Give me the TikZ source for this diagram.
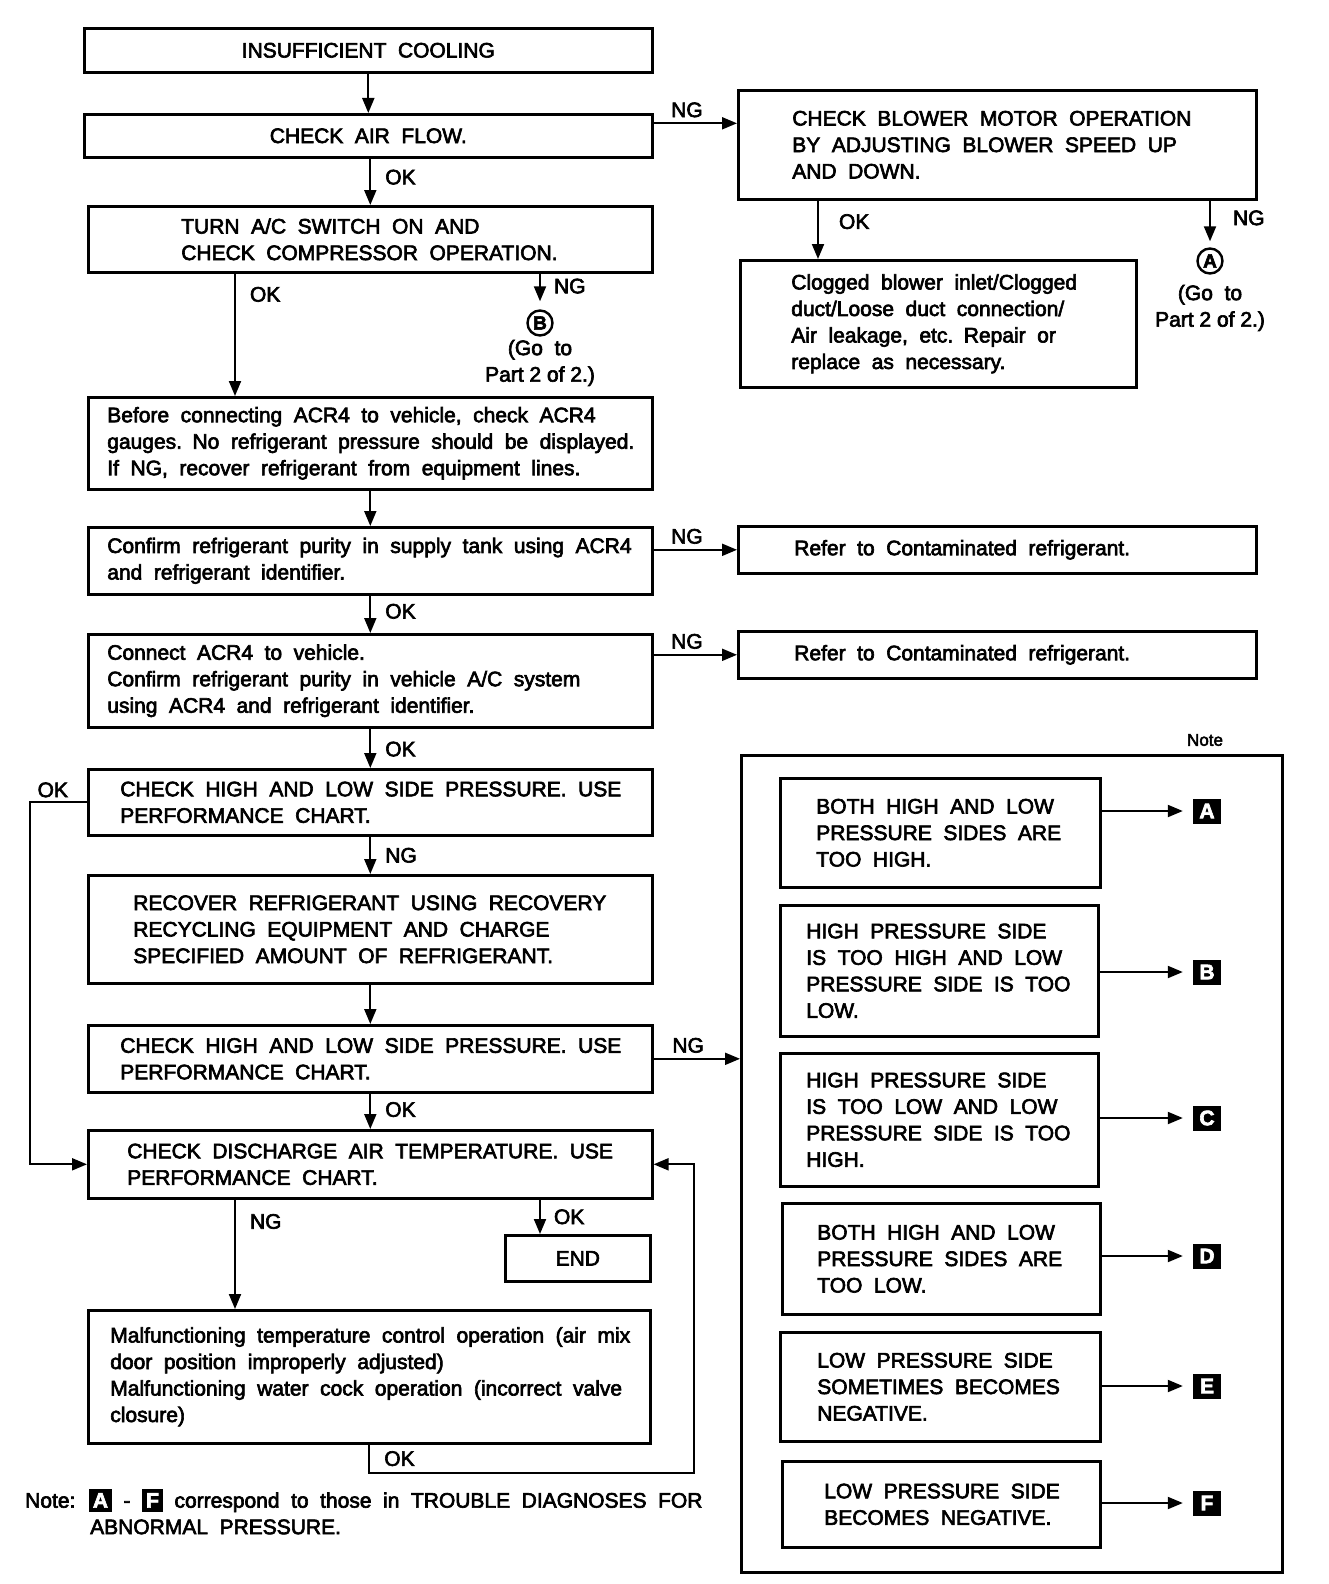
\documentclass[tikz,border=0pt]{standalone}
\usepackage{fontspec}
\setmainfont[FakeBold=3]{Liberation Sans}
\usepackage{xcolor}
\usetikzlibrary{arrows.meta, positioning}

\newcommand{\widesp}{\spaceskip=0.55em plus 0.2em minus 0.15em\relax}
\newcommand{\tagbox}[1]{{\setlength{\fboxsep}{4pt}\colorbox{black}{\textcolor{white}{\bfseries #1}}}}

\begin{document}
\begin{tikzpicture}[
    x=1pt, y=-1pt,
    every node/.style={font=\fontsize{21}{26.5}\selectfont\widesp},
    box/.style={rectangle, draw, line width=2.6pt, anchor=north west, inner sep=0pt, align=left},
    indent/.style={execute at begin node={\leftskip=#1\relax\widesp}},
    frame/.style={rectangle, draw, line width=2.6pt, anchor=north west, inner sep=0pt},
    lbl/.style={inner sep=2pt},
    goto/.style={inner sep=2pt, align=center, font=\fontsize{21}{26.5}\selectfont},
    tag/.style={fill=black, text=white, font=\fontsize{21}{26.5}\selectfont\bfseries, minimum width=28pt, minimum height=25pt, inner sep=0pt},
    circ/.style={circle, draw, line width=2.4pt, inner sep=0pt, minimum size=25pt, font=\fontsize{19}{20}\selectfont\bfseries},
    arrow/.style={-{Triangle[length=15pt,width=12pt]}, line width=2pt}
]
\useasboundingbox (0,0) rectangle (1328,1584);

% main column
\node[box, align=center, minimum width=568pt, minimum height=44pt] (cool) at (83,27) {INSUFFICIENT COOLING};
\node[box, align=center, minimum width=568pt, minimum height=43pt] (air) at (83,113) {CHECK AIR FLOW.};
\node[box, indent=93pt, text width=564pt, minimum height=66pt] (comp) at (87,205) {TURN A/C SWITCH ON AND\\CHECK COMPRESSOR OPERATION.};
\node[circ] (cB) at (540,323) {B};
\node[goto, below=1pt of cB] (goB) {(Go\ \ to\\Part 2 of 2.)};
\node[box, indent=19pt, text width=564pt, minimum height=92pt] (gauge) at (87,396) {Before connecting ACR4 to vehicle, check ACR4\\gauges. No refrigerant pressure should be displayed.\\If NG, recover refrigerant from equipment lines.};
\node[box, indent=19pt, text width=564pt, minimum height=67pt] (tank) at (87,526) {Confirm refrigerant purity in supply tank using ACR4\\and refrigerant identifier.};
\node[box, indent=19pt, text width=564pt, minimum height=93pt] (veh) at (87,633) {Connect ACR4 to vehicle.\\Confirm refrigerant purity in vehicle A/C system\\using ACR4 and refrigerant identifier.};
\node[box, indent=32pt, text width=564pt, minimum height=66pt] (press1) at (87,768) {CHECK HIGH AND LOW SIDE PRESSURE. USE\\PERFORMANCE CHART.};
\node[box, indent=45pt, text width=564pt, minimum height=108pt] (recover) at (87,874) {RECOVER REFRIGERANT USING RECOVERY\\RECYCLING EQUIPMENT AND CHARGE\\SPECIFIED AMOUNT OF REFRIGERANT.};
\node[box, indent=32pt, text width=564pt, minimum height=67pt] (press2) at (87,1024) {CHECK HIGH AND LOW SIDE PRESSURE. USE\\PERFORMANCE CHART.};
\node[box, indent=39pt, text width=564pt, minimum height=68pt] (temp) at (87,1129) {CHECK DISCHARGE AIR TEMPERATURE. USE\\PERFORMANCE CHART.};
\node[box, align=center, minimum width=145pt, minimum height=46pt] (fin) at (504,1234) {END};
\node[box, indent=22pt, text width=562pt, minimum height=133pt] (malf) at (87,1309) {Malfunctioning temperature control operation (air mix\\door position improperly adjusted)\\Malfunctioning water cock operation (incorrect valve\\closure)};

% blower branch
\node[box, indent=54pt, text width=518pt, minimum height=109pt] (blower) at (737,89) {CHECK BLOWER MOTOR OPERATION\\BY ADJUSTING BLOWER SPEED UP\\AND DOWN.};
\node[box, indent=51pt, text width=396pt, minimum height=127pt] (clog) at (739,259) {Clogged blower inlet/Clogged\\duct/Loose duct connection/\\Air leakage, etc. Repair or\\replace as necessary.};
\node[circ] (cA) at (1210,261) {A};
\node[goto, below=8pt of cA] (goA) {(Go\ \ to\\Part 2 of 2.)};
\node[box, indent=56pt, text width=518pt, minimum height=47pt] (cont1) at (737,525) {Refer to Contaminated refrigerant.};
\node[box, indent=56pt, text width=518pt, minimum height=47pt] (cont2) at (737,630) {Refer to Contaminated refrigerant.};

% note panel
\node[frame, minimum width=541pt, minimum height=817pt] (note) at (740,754) {};
\node[lbl, font=\fontsize{17}{20}\selectfont] (notehd) at (1205,740) {Note};
\node[box, indent=36pt, text width=320pt, minimum height=109pt] (hh) at (779,777) {BOTH HIGH AND LOW\\PRESSURE SIDES ARE\\TOO HIGH.};
\node[box, indent=26pt, text width=318pt, minimum height=131pt] (hl) at (779,904) {HIGH PRESSURE SIDE\\IS TOO HIGH AND LOW\\PRESSURE SIDE IS TOO\\LOW.};
\node[box, indent=26pt, text width=318pt, minimum height=133pt] (lh) at (779,1052) {HIGH PRESSURE SIDE\\IS TOO LOW AND LOW\\PRESSURE SIDE IS TOO\\HIGH.};
\node[box, indent=35pt, text width=318pt, minimum height=111pt] (ll) at (781,1202) {BOTH HIGH AND LOW\\PRESSURE SIDES ARE\\TOO LOW.};
\node[box, indent=37pt, text width=320pt, minimum height=109pt] (neg1) at (779,1331) {LOW PRESSURE SIDE\\SOMETIMES BECOMES\\NEGATIVE.};
\node[box, indent=42pt, text width=318pt, minimum height=86pt] (neg2) at (781,1460) {LOW PRESSURE SIDE\\BECOMES NEGATIVE.};
\node[tag] (tA) at (1207,811) {A};
\node[tag] (tB) at (1207,972) {B};
\node[tag] (tC) at (1207,1118) {C};
\node[tag] (tD) at (1207,1256) {D};
\node[tag] (tE) at (1207,1386) {E};
\node[tag] (tF) at (1207,1503) {F};

\node[anchor=north west, align=left, inner sep=0pt] (foot) at (25,1489) {Note: \tagbox{A} - \tagbox{F} correspond to those in TROUBLE DIAGNOSES FOR\\\hspace*{65pt}ABNORMAL PRESSURE.};

% connectors
\draw[arrow] (cool) -- (air);
\draw[arrow] ([yshift=12.5pt]air.east) -- node[lbl, above=3pt, pos=0.4] {NG} ([yshift=12.5pt]air.east -| blower.west);
\draw[arrow] (comp.north |- air.south) -- node[lbl, right=12pt, pos=0.4] {OK} (comp.north);
\draw[arrow] ([xshift=148pt]comp.south west) -- node[lbl, right=12pt, pos=0.17] {OK} ([xshift=148pt]comp.south west |- gauge.north);
\draw[arrow, shorten >=8pt] (cB |- comp.south) -- node[lbl, right=11pt, pos=0.35] {NG} (cB);
\draw[arrow] (gauge) -- (tank);
\draw[arrow] (tank.east |- cont1) -- node[lbl, above=3pt, pos=0.4] {NG} (cont1);
\draw[arrow] (tank) -- node[lbl, right=12pt, pos=0.42] {OK} (veh);
\draw[arrow] (veh.east |- cont2) -- node[lbl, above=3pt, pos=0.4] {NG} (cont2);
\draw[arrow] (veh) -- node[lbl, right=12pt, pos=0.52] {OK} (press1);
\draw[arrow] (press1.west) -- node[lbl, above=2pt, pos=0.6] {OK} ++(-57,0) |- (temp.west);
\draw[arrow] (press1) -- node[lbl, right=12pt] {NG} (recover);
\draw[arrow] (recover) -- (press2);
\draw[arrow] (press2.east) -- node[lbl, above=3pt, pos=0.4] {NG} (press2.east -| note.west);
\draw[arrow] (press2) -- node[lbl, right=12pt, pos=0.45] {OK} (temp);
\draw[arrow] ([xshift=148pt]temp.south west) -- node[lbl, right=12pt, pos=0.2] {NG} ([xshift=148pt]temp.south west |- malf.north);
\draw[arrow] ([xshift=453pt]temp.south west) -- node[lbl, right=11pt] {OK} ([xshift=453pt]temp.south west |- fin.north);
\draw[arrow] (malf.south) -- node[lbl, right=12pt] {OK} ++(0,28) -| ([xshift=40pt]temp.east) -- (temp.east);
\draw[arrow] ([xshift=79pt]clog.north west |- blower.south) -- node[lbl, right=18pt, pos=0.36] {OK} ([xshift=79pt]clog.north west);
\draw[arrow, shorten >=6pt] (cA |- blower.south) -- node[lbl, right=20pt, pos=0.37] {NG} (cA);
\draw[arrow, shorten >=10pt] (hh.east |- tA) -- (tA);
\draw[arrow, shorten >=10pt] (hl.east |- tB) -- (tB);
\draw[arrow, shorten >=10pt] (lh.east |- tC) -- (tC);
\draw[arrow, shorten >=10pt] (ll.east |- tD) -- (tD);
\draw[arrow, shorten >=10pt] (neg1.east |- tE) -- (tE);
\draw[arrow, shorten >=10pt] (neg2.east |- tF) -- (tF);
\end{tikzpicture}
\end{document}
